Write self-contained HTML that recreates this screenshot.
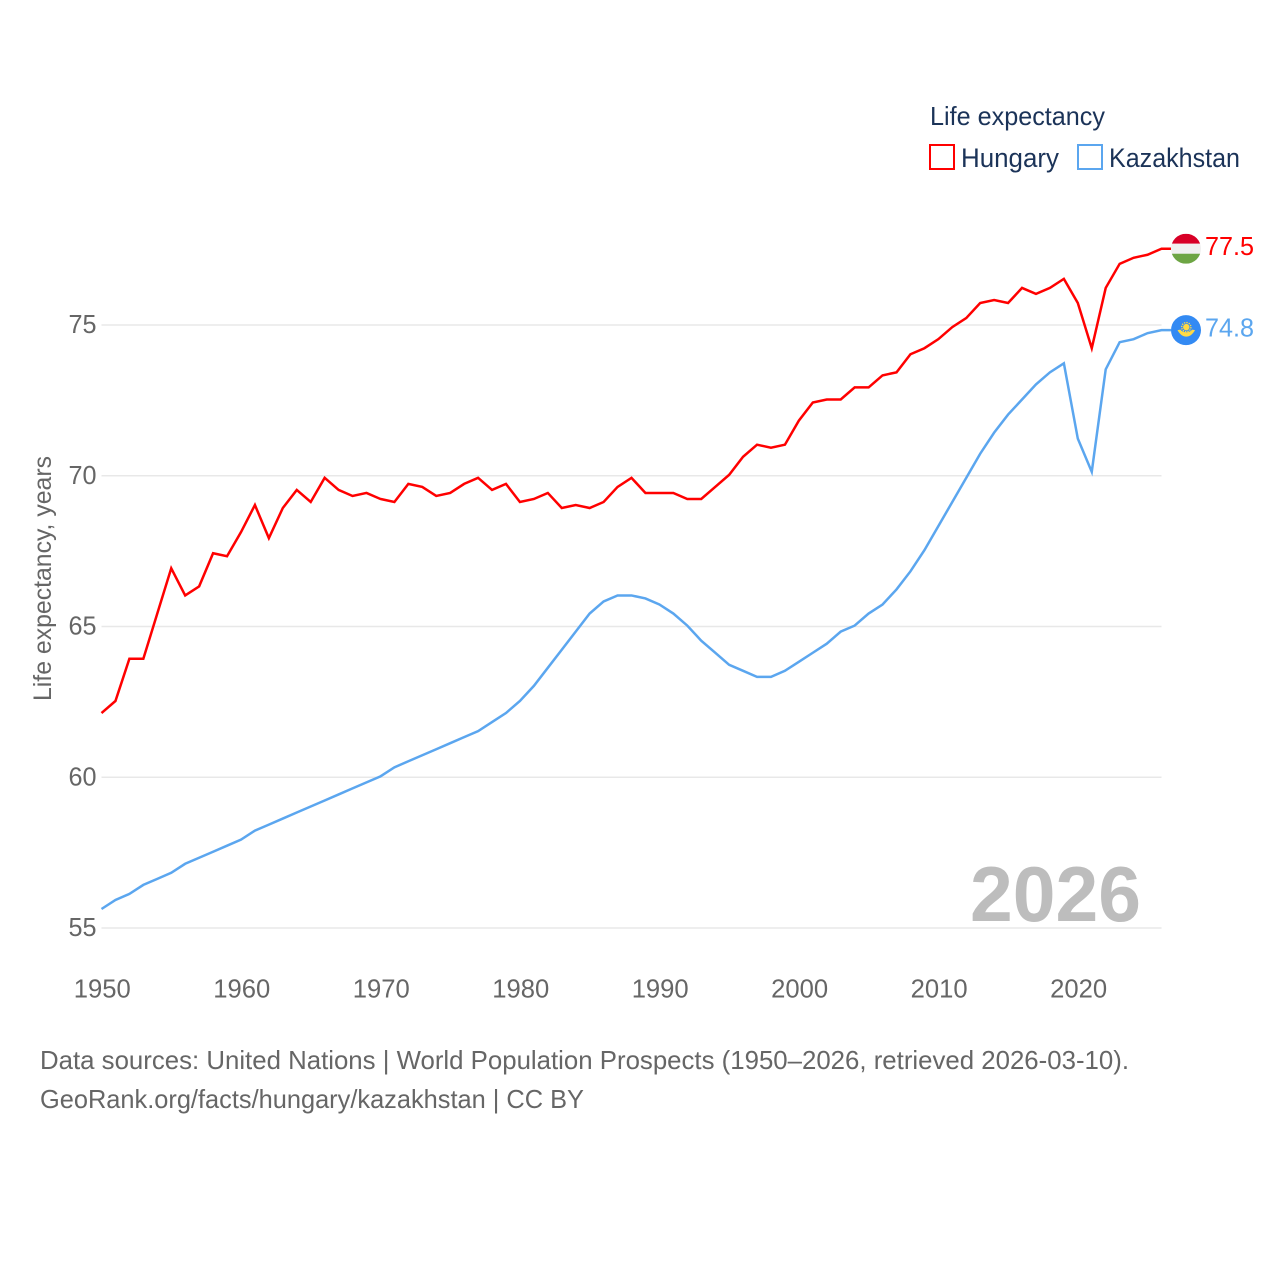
<!DOCTYPE html>
<html lang="en">
<head>
<meta charset="utf-8">
<title>Life expectancy: Hungary vs Kazakhstan</title>
<style>
  html, body { margin: 0; padding: 0; background: #fff; }
  svg { display: block; font-family: "Liberation Sans", sans-serif; }
</style>
</head>
<body>
<svg id="chart" xmlns="http://www.w3.org/2000/svg" width="1280" height="1280" viewBox="0 0 1280 1280">
  <rect x="0" y="0" width="1280" height="1280" fill="#ffffff"/>
  <g id="grid"></g>
  <g id="yticks"></g>
  <g id="xticks"></g>
  <text transform="translate(51 578.5) rotate(-90)" text-anchor="middle" font-size="25" fill="#666666" textLength="245" lengthAdjust="spacingAndGlyphs">Life expectancy, years</text>
  <text x="970" y="921" font-size="78" font-weight="700" fill="#bdbdbd" textLength="171" lengthAdjust="spacingAndGlyphs">2026</text>

  <g>
    <text x="930" y="125" font-size="26" fill="#1b3358" textLength="175" lengthAdjust="spacingAndGlyphs">Life expectancy</text>
    <g>
      <rect x="930" y="145" width="24" height="24" fill="none" stroke="#ff0000" stroke-width="2"/>
      <text x="961" y="167" font-size="27" fill="#1b3358" textLength="98" lengthAdjust="spacingAndGlyphs">Hungary</text>
    </g>
    <g>
      <rect x="1078" y="145" width="24" height="24" fill="none" stroke="#5ba6ef" stroke-width="2"/>
      <text x="1109" y="167" font-size="27" fill="#1b3358" textLength="131" lengthAdjust="spacingAndGlyphs">Kazakhstan</text>
    </g>
  </g>

  <path id="line-hungary" fill="none" stroke="#ff0000" stroke-width="2.5" stroke-linejoin="miter"/>
  <path id="line-kazakhstan" fill="none" stroke="#5ba6ef" stroke-width="2.5" stroke-linejoin="miter"/>

  <defs>
    <clipPath id="flag-clip"><circle cx="0" cy="0" r="15"/></clipPath>
  </defs>
  <g id="flag-hungary" clip-path="url(#flag-clip)">
    <rect x="-15" y="-15" width="30" height="10" fill="#d80027"/>
    <rect x="-15" y="-5" width="30" height="10" fill="#f0f0f0"/>
    <rect x="-15" y="5" width="30" height="10" fill="#6da544"/>
  </g>
  <g id="flag-kazakhstan">
    <circle cx="0" cy="0" r="15" fill="#338af3"/>
    <circle cx="0.3" cy="-3" r="3.2" fill="#ffda44"/>
    <circle cx="0.3" cy="-3" r="4.6" fill="none" stroke="#ffda44" stroke-width="1.4" stroke-dasharray="1.3 1.1"/>
    <path d="M-8.5 0 L-5.5 -0.5 C-3.5 3 4 3 6 -0.5 L9 0 C6.5 4.5 3.5 6.5 0.3 6.5 C-3 6.5 -6 4.5 -8.5 0 Z" fill="#ffda44"/>
  </g>
  <text id="value-hungary" x="1205" font-size="26" fill="#ff0000" textLength="49" lengthAdjust="spacingAndGlyphs"></text>
  <text id="value-kazakhstan" x="1205" font-size="26" fill="#5ba6ef" textLength="49" lengthAdjust="spacingAndGlyphs"></text>

  <text x="40" y="1069" font-size="26" fill="#666666" textLength="1089" lengthAdjust="spacingAndGlyphs">Data sources: United Nations | World Population Prospects (1950–2026, retrieved 2026-03-10).</text>
  <text x="40" y="1108" font-size="26" fill="#666666" textLength="544" lengthAdjust="spacingAndGlyphs">GeoRank.org/facts/hungary/kazakhstan | CC BY</text>
</svg>

<script>
const startYear = 1950;
const hungaryValues = [
  62.1, 62.5, 63.9, 63.9, 65.4, 66.9, 66.0, 66.3, 67.4, 67.3,
  68.1, 69.0, 67.9, 68.9, 69.5, 69.1, 69.9, 69.5, 69.3, 69.4,
  69.2, 69.1, 69.7, 69.6, 69.3, 69.4, 69.7, 69.9, 69.5, 69.7,
  69.1, 69.2, 69.4, 68.9, 69.0, 68.9, 69.1, 69.6, 69.9, 69.4,
  69.4, 69.4, 69.2, 69.2, 69.6, 70.0, 70.6, 71.0, 70.9, 71.0,
  71.8, 72.4, 72.5, 72.5, 72.9, 72.9, 73.3, 73.4, 74.0, 74.2,
  74.5, 74.9, 75.2, 75.7, 75.8, 75.7, 76.2, 76.0, 76.2, 76.5,
  75.7, 74.2, 76.2, 77.0, 77.2, 77.3, 77.5
];
const kazakhstanValues = [
  55.6, 55.9, 56.1, 56.4, 56.6, 56.8, 57.1, 57.3, 57.5, 57.7,
  57.9, 58.2, 58.4, 58.6, 58.8, 59.0, 59.2, 59.4, 59.6, 59.8,
  60.0, 60.3, 60.5, 60.7, 60.9, 61.1, 61.3, 61.5, 61.8, 62.1,
  62.5, 63.0, 63.6, 64.2, 64.8, 65.4, 65.8, 66.0, 66.0, 65.9,
  65.7, 65.4, 65.0, 64.5, 64.1, 63.7, 63.5, 63.3, 63.3, 63.5,
  63.8, 64.1, 64.4, 64.8, 65.0, 65.4, 65.7, 66.2, 66.8, 67.5,
  68.3, 69.1, 69.9, 70.7, 71.4, 72.0, 72.5, 73.0, 73.4, 73.7,
  71.2, 70.1, 73.5, 74.4, 74.5, 74.7, 74.8
];
const yTickValues = [55, 60, 65, 70, 75];
const xTickValues = [1950, 1960, 1970, 1980, 1990, 2000, 2010, 2020];

const SVG_NS = 'http://www.w3.org/2000/svg';
const plotLeft = 101.5, plotRight = 1161.5;
const lineLift = 0.9;
function xScale(year) { return plotLeft + (year - 1950) * (plotRight - plotLeft) / 76; }
function yScale(v) { return 928 - (v - 55) * (928 - 325) / 20; }
function yLine(v) { return yScale(v) - lineLift; }

const gridGroup = document.getElementById('grid');
const yTickGroup = document.getElementById('yticks');
const xTickGroup = document.getElementById('xticks');

yTickValues.forEach(function (v) {
  const line = document.createElementNS(SVG_NS, 'line');
  
  
  line.setAttribute('x1', plotLeft);
  line.setAttribute('x2', plotRight);
  line.setAttribute('y1', yScale(v));
  line.setAttribute('y2', yScale(v));
  line.setAttribute('stroke', '#e8e8e8');
  line.setAttribute('stroke-width', '1.4');
  gridGroup.appendChild(line);

  const label = document.createElementNS(SVG_NS, 'text');
  
  
  label.setAttribute('x', 96.5);
  label.setAttribute('y', yScale(v) + 8);
  label.setAttribute('text-anchor', 'end');
  label.setAttribute('font-size', '26');
  label.setAttribute('fill', '#666666');
  label.setAttribute('textLength', '28');
  label.setAttribute('lengthAdjust', 'spacingAndGlyphs');
  label.textContent = v;
  yTickGroup.appendChild(label);
});

xTickValues.forEach(function (year) {
  const label = document.createElementNS(SVG_NS, 'text');
  
  
  label.setAttribute('x', xScale(year) + 0.8);
  label.setAttribute('y', 997.5);
  label.setAttribute('text-anchor', 'middle');
  label.setAttribute('font-size', '26');
  label.setAttribute('fill', '#666666');
  label.setAttribute('textLength', '57');
  label.setAttribute('lengthAdjust', 'spacingAndGlyphs');
  label.textContent = year;
  xTickGroup.appendChild(label);
});

const connectorX = 1171;
function buildPath(values) {
  let d = '';
  values.forEach(function (v, i) {
    d += (i ? 'L' : 'M') + xScale(startYear + i).toFixed(2) + ' ' + yLine(v).toFixed(2);
  });
  return d + 'L' + connectorX + ' ' + yLine(values[values.length - 1]).toFixed(2);
}
document.getElementById('line-hungary').setAttribute('d', buildPath(hungaryValues));
document.getElementById('line-kazakhstan').setAttribute('d', buildPath(kazakhstanValues));

function placeEnd(flagId, valueId, values) {
  const last = values[values.length - 1];
  const yEnd = yLine(last);
  document.getElementById(flagId).setAttribute('transform', 'translate(1186 ' + yEnd.toFixed(2) + ')');
  const text = document.getElementById(valueId);
  text.setAttribute('y', (yEnd + 6.3).toFixed(2));
  text.textContent = last.toFixed(1);
}
placeEnd('flag-hungary', 'value-hungary', hungaryValues);
placeEnd('flag-kazakhstan', 'value-kazakhstan', kazakhstanValues);
</script>
</body>
</html>
